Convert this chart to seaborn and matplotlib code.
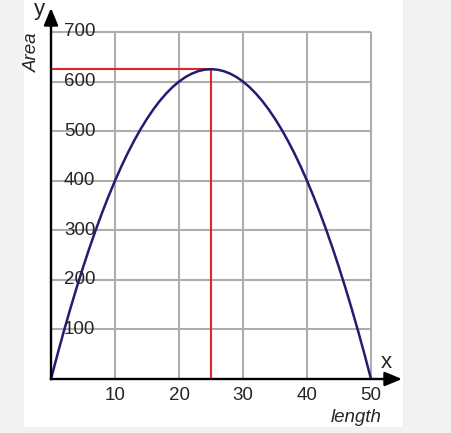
import matplotlib
matplotlib.use("Agg")
import matplotlib.pyplot as plt
from matplotlib.patches import Rectangle
import seaborn as sns
import pandas as pd

# values (one point per unit of length)
length = list(range(0, 51))
area = [0, 49, 96, 141, 184, 225, 264, 301, 336, 369,
        400, 429, 456, 481, 504, 525, 544, 561, 576, 589,
        600, 609, 616, 621, 624, 625, 624, 621, 616, 609,
        600, 589, 576, 561, 544, 525, 504, 481, 456, 429,
        400, 369, 336, 301, 264, 225, 184, 141, 96, 49, 0]
x_ticks = [10, 20, 30, 40, 50]
y_ticks = [100, 200, 300, 400, 500, 600, 700]
peak_length = 25
peak_area = 625

df = pd.DataFrame({"length": length, "area": area})

sns.set_style("white")
plt.rcParams["font.family"] = ["Liberation Sans", "DejaVu Sans"]

W, H = 451, 433
fig = plt.figure(figsize=(W / 100, H / 100), dpi=100)
fig.patch.set_facecolor("#f1f2f4")
fig.patches.append(Rectangle((24 / W, 6 / H), (403 - 24) / W, 427 / H,
                             transform=fig.transFigure, facecolor="white",
                             edgecolor="none", zorder=-10))

ax = fig.add_axes([0, 0, 1, 1])
ax.set_facecolor("none")

# pixel mapping: x=0 -> 51px, x=50 -> 371px ; y=0 -> 379px, y=700 -> 32px
sx = (371 - 51) / 50
sy = (379 - 32) / 700
ax.set_xlim(-51 / sx, (W - 51) / sx)
ax.set_ylim(-(H - 379) / sy, 379 / sy)

x_end = (402 - 51) / sx
y_end = (379 - 8) / sy

# grid limited to the plotted range
grid_kw = dict(color="#adadad", lw=1.5, zorder=1)
ax.vlines(x_ticks, 0, max(y_ticks), **grid_kw)
ax.hlines(y_ticks, 0, max(x_ticks), **grid_kw)

# guide lines to the maximum
ax.plot([0, peak_length], [peak_area, peak_area], color="#e0262b", lw=1.5, zorder=2)
ax.plot([peak_length, peak_length], [0, peak_area], color="#e0262b", lw=1.5, zorder=2)

sns.lineplot(data=df, x="length", y="area", ax=ax, color="#231c70", lw=1.8,
             zorder=3, sort=False)

# axes through origin
for s in ["top", "right"]:
    ax.spines[s].set_visible(False)
ax.spines["left"].set_position(("data", 0))
ax.spines["bottom"].set_position(("data", 0))
ax.spines["left"].set_bounds(0, y_end - 10)
ax.spines["bottom"].set_bounds(0, x_end - 1.5)
for s in ["left", "bottom"]:
    ax.spines[s].set_linewidth(1.7)
    ax.spines[s].set_color("black")
    ax.spines[s].set_zorder(4)

head = "-|>,head_length=0.65,head_width=0.27"
ax.annotate("", xy=(x_end, 0), xytext=(x_end - 3, 0),
            arrowprops=dict(arrowstyle=head, mutation_scale=16, color="black",
                            lw=1.7, shrinkA=0, shrinkB=0), zorder=5)
ax.annotate("", xy=(0, y_end), xytext=(0, y_end - 40),
            arrowprops=dict(arrowstyle=head, mutation_scale=16, color="black",
                            lw=1.7, shrinkA=0, shrinkB=0), zorder=5)

ax.set_xticks(x_ticks)
ax.set_yticks(y_ticks)
ax.tick_params(axis="x", direction="in", length=4, width=1.5, color="black",
               labelbottom=False)
ax.tick_params(axis="y", direction="in", length=6, width=1.5, color="black",
               labelleft=False)
ax.set_xlabel("")
ax.set_ylabel("")

fs = 13.5
for t in x_ticks:
    ax.text(t, -16 / sy, str(t), ha="center", va="center", fontsize=fs)
for t in y_ticks:
    ax.text(13 / sx, t, str(t), ha="left", va="center", fontsize=fs, zorder=6)

ax.text((386 - 51) / sx, (379 - 362) / sy, "x", ha="center", va="center", fontsize=16)
ax.text((39 - 51) / sx, (379 - 9) / sy, "y", ha="center", va="center", fontsize=16)
ax.text((356 - 51) / sx, (379 - 417) / sy, "length", ha="center", va="center",
        fontsize=fs, style="italic")
ax.text((32 - 51) / sx, (379 - 52) / sy, "Area", ha="center", va="center",
        fontsize=fs, style="italic", rotation=90)

fig.savefig("out.png", dpi=100, facecolor=fig.get_facecolor())
